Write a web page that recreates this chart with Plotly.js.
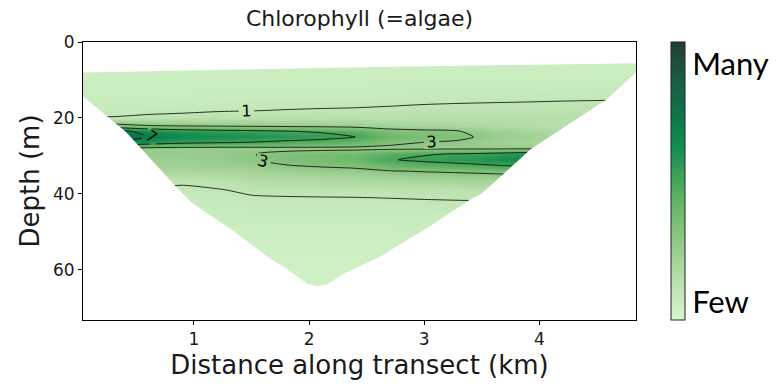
<!DOCTYPE html>
<html>
<head>
<meta charset="utf-8">
<script src="https://cdn.plot.ly/plotly-3.0.1.min.js"></script>
<style>
html,body{margin:0;padding:0;background:#fff;}
#chart{width:783px;height:390px;}
</style>
</head>
<body>
<div id="chart"></div>
<script>
// Grid positions (km along transect, depth in m)
const distanceKm = [0.0, 0.3, 0.6, 0.9, 1.2, 1.5, 1.8, 2.1, 2.4, 2.7, 3.0, 3.3, 3.6, 3.9, 4.2, 4.5, 4.85];
const depthM = [4, 8, 12, 15, 18, 20, 22, 23.5, 25, 26.5, 28, 29.5, 31, 32.5, 34, 36, 39, 42, 46, 52, 58, 66];

// Chlorophyll values (rows = depth, cols = distance)
const chlorophyll = [
  [0.55,0.55,0.55,0.55,0.55,0.55,0.55,0.55,0.55,0.55,0.55,0.55,0.55,0.55,0.55,0.55,0.55],
  [0.55,0.55,0.55,0.55,0.55,0.55,0.55,0.55,0.55,0.55,0.55,0.55,0.55,0.55,0.55,0.55,0.55],
  [0.6,0.6,0.6,0.6,0.6,0.6,0.6,0.6,0.62,0.63,0.65,0.67,0.68,0.7,0.72,0.74,0.75],
  [0.62,0.62,0.62,0.62,0.66,0.66,0.72,0.74,0.76,0.79,0.83,0.86,0.88,0.9,0.93,0.95,0.97],
  [0.75,0.75,0.82,0.88,0.95,0.98,1.02,1.05,1.07,1.12,1.18,1.22,1.25,1.28,1.3,1.32,1.34],
  [1.05,1.05,1.15,1.2,1.25,1.28,1.3,1.32,1.35,1.38,1.4,1.42,1.45,1.47,1.48,1.5,1.5],
  [3.31,3.46,3.01,2.8,2.71,2.65,2.56,2.5,2.38,2.08,1.99,1.9,1.69,1.57,1.45,1.4,1.4],
  [7.2,7.6,6.4,5.8,5.5,5.3,5.05,4.85,4.5,3.6,3.3,3.05,2.45,2.1,1.74,1.45,1.4],
  [8.0,8.5,7.1,6.5,6.2,6.0,5.7,5.45,5.0,3.95,3.6,3.3,2.6,2.3,1.8,1.5,1.45],
  [6.5,6.8,5.8,5.3,5.05,4.9,4.65,4.45,4.1,3.3,2.95,2.79,2.3,2.1,1.74,1.55,1.5],
  [2.75,2.84,2.64,2.55,2.53,2.56,2.61,2.64,2.64,2.67,2.7,2.72,2.7,2.74,2.66,2.3,2.0],
  [2.45,2.56,2.57,2.62,2.69,2.94,3.35,3.59,3.83,4.54,4.87,5.1,5.41,5.82,5.8,4.5,3.5],
  [2.2,2.3,2.4,2.5,2.6,2.9,3.4,3.7,4.0,4.9,5.3,5.6,6.0,6.5,6.5,5.0,4.0],
  [2.08,2.15,2.23,2.3,2.38,2.6,2.95,3.2,3.43,4.1,4.4,4.63,4.93,5.3,5.3,4.2,3.4],
  [1.84,1.88,1.92,1.96,2.0,2.12,2.32,2.44,2.56,2.92,3.08,3.2,3.36,3.56,3.56,3.0,2.6],
  [1.55,1.58,1.3,1.2,1.35,1.7,1.8,1.86,1.92,2.1,2.18,2.24,2.32,2.4,2.4,2.2,2.0],
  [1.1,1.1,0.95,0.85,0.95,1.12,1.15,1.15,1.17,1.2,1.22,1.25,1.3,1.35,1.35,1.3,1.3],
  [0.85,0.85,0.75,0.7,0.75,0.85,0.88,0.9,0.9,0.92,0.95,0.97,0.98,0.98,0.98,0.98,0.98],
  [0.6,0.6,0.6,0.6,0.6,0.65,0.67,0.67,0.67,0.67,0.7,0.7,0.72,0.72,0.72,0.72,0.72],
  [0.5,0.5,0.5,0.5,0.5,0.52,0.52,0.52,0.52,0.52,0.52,0.52,0.55,0.55,0.55,0.55,0.55],
  [0.4,0.4,0.4,0.4,0.4,0.4,0.4,0.4,0.4,0.4,0.4,0.4,0.45,0.45,0.45,0.45,0.45],
  [0.3,0.3,0.3,0.3,0.3,0.28,0.28,0.28,0.28,0.28,0.28,0.28,0.3,0.3,0.3,0.3,0.3]
];

// Lake outline (water surface and lake bottom)
const surfaceX = [-0.2, 0.036, 2.2, 4.84, 5.0];
const surfaceDepth = [8.1, 8.0, 6.8, 5.6, 5.5];
const bottomX = [-0.2, 0.036, 0.41, 0.87, 0.99, 1.335, 1.66, 1.77, 1.9, 1.98, 2.07, 2.15, 2.3, 2.61, 3.04, 3.39, 3.5, 3.93, 4.58, 4.84, 5.0];
const bottomDepth = [11.0, 14.3, 23.7, 39.0, 42.5, 49.6, 57.0, 59.0, 61.8, 63.6, 64.3, 63.9, 61.0, 56.6, 48.7, 41.7, 39.9, 28.1, 15.2, 8.0, 5.0];

const contourLevels = {start: 1, end: 7, size: 2};
const xTicks = [1, 2, 3, 4];
const yTicks = [0, 20, 40, 60];
const xRange = [0.036, 4.84];
const yRange = [73.2, 0];
const zMin = 0, zMax = 10;
const colorbarTickVals = [9.2, 0.65];
const colorbarTickText = ['Many', 'Few'];

const algaeScale = [
  [0.0, '#d6f7ce'],
  [0.1, '#c2e6b6'],
  [0.2, '#a9d69c'],
  [0.3, '#8cc582'],
  [0.4, '#6db86a'],
  [0.5, '#45a55a'],
  [0.6, '#1c9151'],
  [0.65, '#0e8a50'],
  [0.75, '#117249'],
  [0.85, '#1a5f41'],
  [0.95, '#1f4b35'],
  [1.0, '#203f2e']
];

const heat = {
  type: 'heatmap',
  x: distanceKm, y: depthM, z: chlorophyll,
  zsmooth: 'best',
  zmin: zMin, zmax: zMax,
  colorscale: algaeScale,
  hoverinfo: 'skip',
  colorbar: {
    x: 1.063, xanchor: 'left', y: 0.5, yanchor: 'middle',
    len: 1.0, lenmode: 'fraction', thickness: 14, ypad: 0, xpad: 0,
    outlinewidth: 1, outlinecolor: '#222',
    tickmode: 'array', tickvals: colorbarTickVals, ticktext: colorbarTickText,
    ticks: '', ticklen: 0,
    tickfont: {family: 'Lato, "Open Sans", sans-serif', size: 31, color: '#000'}
  }
};

const lines = {
  type: 'contour',
  x: distanceKm, y: depthM, z: chlorophyll,
  autocontour: false,
  contours: {start: contourLevels.start, end: contourLevels.end, size: contourLevels.size,
    coloring: 'none', showlabels: true,
    labelfont: {family: 'DejaVu Sans', size: 16, color: '#000'}},
  line: {color: '#000', width: 0.8, smoothing: 0.6},
  showscale: false,
  hoverinfo: 'skip'
};

// White masks outside the lake
const maskTop = {
  type: 'scatter', mode: 'lines',
  x: surfaceX.concat([surfaceX[surfaceX.length-1], surfaceX[0]]),
  y: surfaceDepth.concat([-10, -10]),
  fill: 'toself', fillcolor: '#ffffff', line: {width: 0, color: '#ffffff'},
  hoverinfo: 'skip', showlegend: false
};
const maskBottom = {
  type: 'scatter', mode: 'lines',
  x: bottomX.concat([bottomX[bottomX.length-1], bottomX[0]]),
  y: bottomDepth.concat([90, 90]),
  fill: 'toself', fillcolor: '#ffffff', line: {width: 0, color: '#ffffff'},
  hoverinfo: 'skip', showlegend: false
};

const tickFont = {family: 'DejaVu Sans', size: 17, color: '#1a1a1a'};
const titleFont = {family: 'DejaVu Sans', size: 26, color: '#1a1a1a'};
const layout = {
  width: 783, height: 390,
  margin: {l: 83, r: 147, t: 42, b: 70, pad: 0, autoexpand: false},
  paper_bgcolor: '#fff', plot_bgcolor: '#fff',
  showlegend: false,
  title: {text: 'Chlorophyll (=algae)', font: {family: 'DejaVu Sans', size: 22, color: '#1a1a1a'},
    x: 0.5, xref: 'paper', xanchor: 'center', y: 0.953, yref: 'container', yanchor: 'middle'},
  xaxis: {
    range: xRange, tickmode: 'array', tickvals: xTicks,
    showgrid: false, zeroline: false,
    showline: true, mirror: true, linecolor: '#000', linewidth: 1,
    ticks: 'outside', ticklen: 4, tickwidth: 1, tickcolor: '#000',
    tickfont: tickFont,
    title: {text: 'Distance along transect (km)', font: titleFont, standoff: 7}
  },
  yaxis: {
    range: yRange, tickmode: 'array', tickvals: yTicks,
    showgrid: false, zeroline: false,
    showline: true, mirror: true, linecolor: '#000', linewidth: 1,
    ticks: 'outside', ticklen: 4, tickwidth: 1, tickcolor: '#000',
    tickfont: tickFont,
    title: {text: 'Depth (m)', font: titleFont, standoff: 5}
  }
};

Plotly.newPlot('chart', [heat, lines, maskTop, maskBottom], layout, {displayModeBar: false, staticPlot: true});
</script>
</body>
</html>
